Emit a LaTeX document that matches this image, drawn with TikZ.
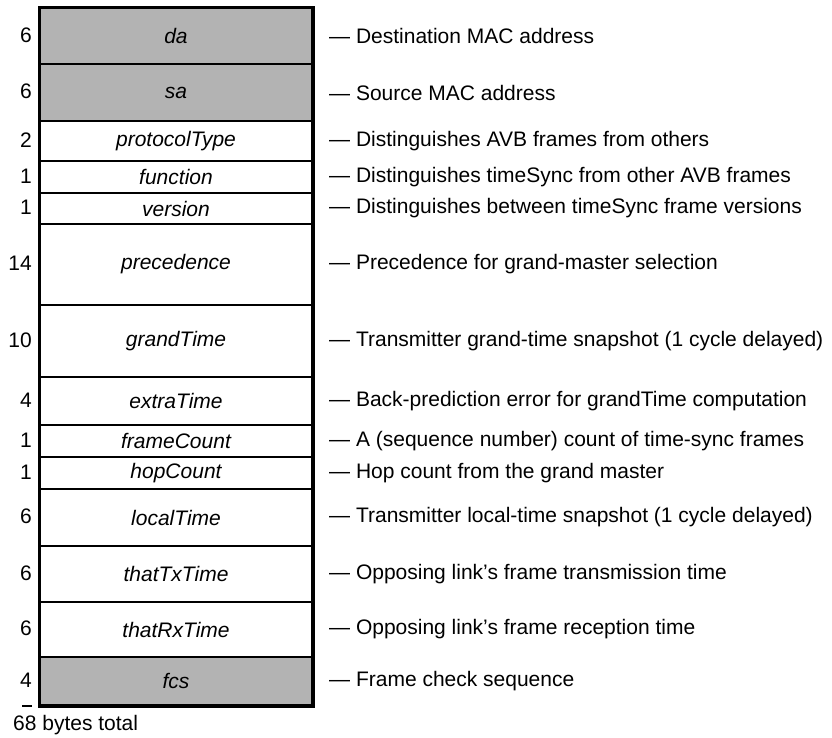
\documentclass[tikz,border=0pt]{standalone}
\usepackage{fontspec}
\setmainfont{Liberation Sans}
\usetikzlibrary{positioning}
\definecolor{shade}{HTML}{B3B3B3}
\tikzset{
  field/.style={draw=black,line width=2pt,minimum width=272pt,inner sep=0pt,font=\fontsize{21}{25}\selectfont\itshape},
  bytes/.style={anchor=east,inner sep=0pt},
  note/.style={anchor=west,inner sep=0pt},
}

\begin{document}
\begin{tikzpicture}[x=1pt,y=-1pt,font=\fontsize{21}{25}\selectfont]
  \useasboundingbox (0,0) rectangle (832,737);
  % one row per frame field: name/top/bottom/bytes/fill/meaning
  \foreach \name/\top/\bot/\size/\tone/\desc in {
    da/8/64/6/shade/{Destination MAC address},
    sa/64/121/6/shade/{Source MAC address},
    protocolType/121/161/2/white/{Distinguishes AVB frames from others},
    function/161/193/1/white/{Distinguishes timeSync from other AVB frames},
    version/193/224/1/white/{Distinguishes between timeSync frame versions},
    precedence/224/305/14/white/{Precedence for grand-master selection},
    grandTime/305/377/10/white/{Transmitter grand-time snapshot (1 cycle delayed)},
    extraTime/377/425/4/white/{Back-prediction error for grandTime computation},
    frameCount/425/457/1/white/{A (sequence number) count of time-sync frames},
    hopCount/457/489/1/white/{Hop count from the grand master},
    localTime/489/546/6/white/{Transmitter local-time snapshot (1 cycle delayed)},
    thatTxTime/546/602/6/white/{Opposing link’s frame transmission time},
    thatRxTime/602/657/6/white/{Opposing link’s frame reception time},
    fcs/657/705/4/shade/{Frame check sequence}}
  {
    \node[field,fill=\tone,minimum height={\bot-\top}] (\name) at (176,{(\top+\bot)/2}) {\name};
    \node[bytes,left=7pt of \name.west,yshift=1pt] (\name-n) {\size};
    \node[note,right=16pt of \name.east] (\name-d) {— \desc};
  }
  \draw[line width=3pt] (da.north west) rectangle (fcs.south east);
  % sum line and total
  \coordinate (sumend) at (fcs-n.east |- fcs.south);
  \draw[line width=2pt] (sumend) -- ++(-10,0);
  \node[note] (total) at (13,725) {68 bytes total};
\end{tikzpicture}
\end{document}
